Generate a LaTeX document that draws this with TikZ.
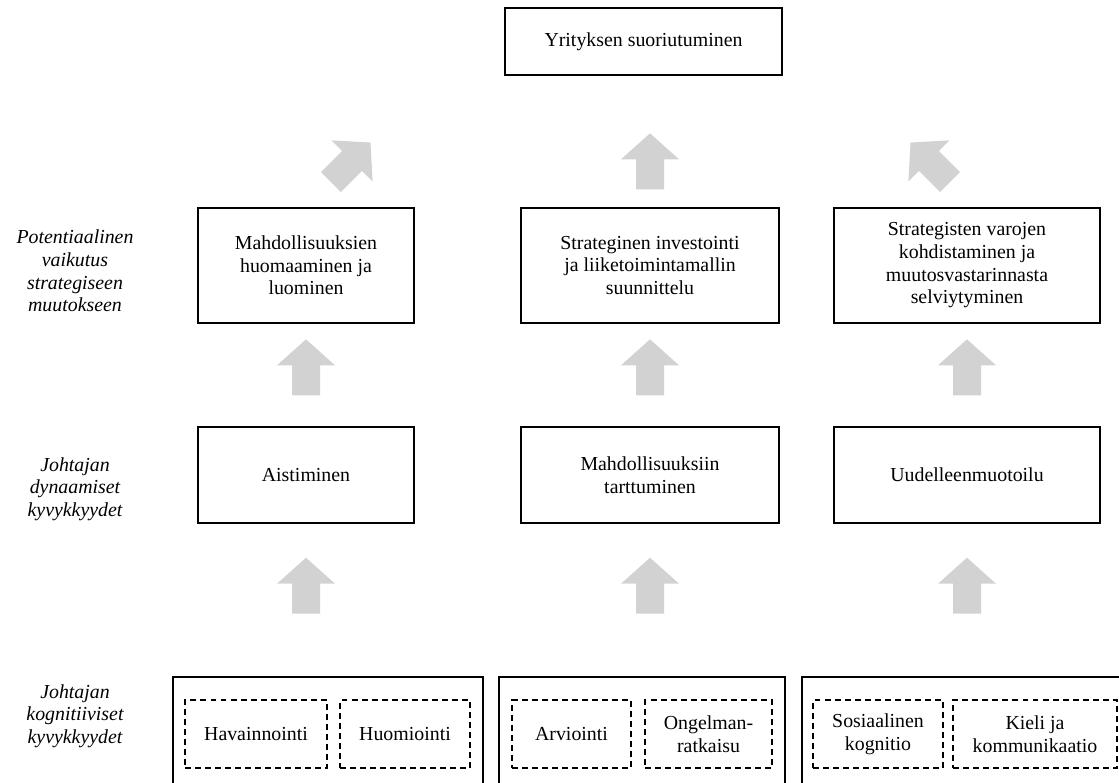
\documentclass[tikz,border=0pt]{standalone}
\usepackage{fontspec}
\setmainfont{Liberation Serif}
\usetikzlibrary{calc}
\definecolor{arrowgray}{RGB}{210,210,210}
\tikzset{
  box/.style={draw, line width=0.8pt, align=center, inner sep=2pt, font=\fontsize{11.3pt}{12.9pt}\selectfont},
  subbox/.style={box, dash pattern=on 3.4pt off 2.3pt},
  groupbox/.style={draw, line width=0.9pt},
  sidelabel/.style={align=center, font=\fontsize{11.3pt}{12.9pt}\selectfont\itshape},
  size/.style 2 args={minimum width=#1, minimum height=#2},
  blockarrow/.pic={\fill[arrowgray] (-14,-28) -- (-14,2) -- (-29,2) -- (0,28) -- (29,2) -- (14,2) -- (14,-28) -- cycle;}
}
\begin{document}
\begin{tikzpicture}[x=0.02cm,y=0.02cm]
\useasboundingbox (0,0) rectangle (1119,-782);
\clip (0,0) rectangle (1119,-782);
% top
\node[box,size={5.54cm}{1.34cm}] (yritys) at(643.5,-41.5) {Yrityksen suoriutuminen};
% potential influence
\node[box,size={4.32cm}{2.3cm}] (mahd) at(306,-265.5) {Mahdollisuuksien\\huomaaminen ja\\luominen};
\node[box,size={5.16cm}{2.3cm}] (strinv) at(650,-265.5) {Strateginen investointi\\ja liiketoimintamallin\\suunnittelu};
\node[box,size={5.32cm}{2.3cm}] (strvar) at(967,-265.5) {Strategisten varojen\\kohdistaminen ja\\muutosvastarinnasta\\selviytyminen};
% dynamic capabilities
\node[box,size={4.32cm}{1.92cm}] (aist) at(306,-475) {Aistiminen};
\node[box,size={5.16cm}{1.92cm}] (tartt) at(650,-475) {Mahdollisuuksiin\\tarttuminen};
\node[box,size={5.32cm}{1.92cm}] (uud) at(967,-475) {Uudelleenmuotoilu};
% cognitive capabilities
\node[groupbox,size={6.2cm}{2.6cm}] (kogA) at(328,-742) {};
\node[groupbox,size={5.72cm}{2.6cm}] (kogB) at(642,-742) {};
\node[groupbox,size={6.76cm}{2.6cm}] (kogC) at(971,-742) {};
\node[subbox,size={2.84cm}{1.36cm}] (hav) at(256,-734) {Havainnointi};
\node[subbox,size={2.6cm}{1.36cm}] (huom) at(405,-734) {Huomiointi};
\node[subbox,size={2.38cm}{1.36cm}] (arv) at(571.5,-734) {Arviointi};
\node[subbox,size={2.54cm}{1.36cm}] (ong) at(708.5,-734) {Ongelman-\\ratkaisu};
\node[subbox,size={2.6cm}{1.36cm}] (sos) at(878,-734) {Sosiaalinen\\kognitio};
\node[subbox,size={3.28cm}{1.36cm}] (kieli) at(1035,-734) {Kieli ja\\kommunikaatio};
% side labels
\node[sidelabel] (lbpot) at(75,-271) {Potentiaalinen\\vaikutus\\strategiseen\\muutokseen};
\node[sidelabel] (lbdyn) at(75,-489) {Johtajan\\dynaamiset\\kyvykkyydet};
\node[sidelabel] (lbkog) at(75,-716) {Johtajan\\kognitiiviset\\kyvykkyydet};
% arrows
\pic[rotate=-45] at($(mahd.north east)+(-64,45)$) {blockarrow};
\pic at($(strinv.north)+(0,46)$) {blockarrow};
\pic[rotate=45] at($(strvar.north west)+(97,45)$) {blockarrow};
\foreach \n in {aist,tartt,uud}{
  \pic at($(\n.north)+(0,59)$) {blockarrow};
  \pic at($(\n.south)+(0,-62)$) {blockarrow};
}
\end{tikzpicture}
\end{document}
